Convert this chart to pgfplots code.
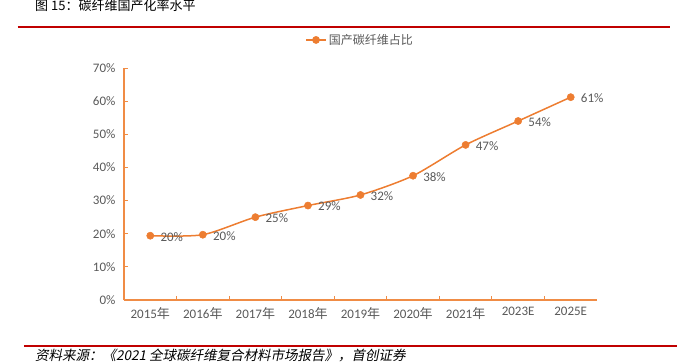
\documentclass[border=0pt]{standalone}
\usepackage{pgfplots}
\pgfplotsset{compat=1.18}
\usepackage{fontspec}
\setmainfont{Carlito}
\newfontfamily\cjk{Noto Sans CJK SC}
\newfontfamily\cjkit{Noto Sans CJK SC}[FakeSlant=0.2]
\definecolor{lineor}{HTML}{ED7D31}
\definecolor{axor}{HTML}{F08C45}
\definecolor{txtgray}{HTML}{595959}
\definecolor{redline}{HTML}{C00000}

\pgfplotstableread{
x y lab
0 19.4 20
1 19.7 20
2 25.0 25
3 28.5 29
4 31.7 32
5 37.5 38
6 46.8 47
7 54.0 54
8 61.2 61
}\ratedata

\begin{document}
\begin{tikzpicture}[x=1pt,y=1pt]
\path[use as bounding box] (-124,-62) rectangle (558,300);
\clip (-124,-62) rectangle (558,300);
\node[anchor=base west, font=\cjk\fontsize{13}{15}\selectfont, inner sep=0] at (-89,289) {图 15：碳纤维国产化率水平};
\draw[redline, line width=1.2pt] (-106,273) -- (546,273);
\draw[redline, line width=2pt] (-106,273) -- (-46,273);
\draw[redline, line width=1.2pt] (-100,-46) -- (553,-46);
\node[anchor=base west, font=\cjkit\fontsize{13.5}{15}\selectfont, inner sep=0] at (-89,-60.5) {资料来源：《2021 全球碳纤维复合材料市场报告》，首创证券};
\begin{axis}[
  at={(0,0)}, anchor=south west,
  scale only axis, width=473pt, height=232pt,
  xmin=-0.5, xmax=8.5, ymin=0, ymax=70,
  axis lines*=left,
  axis line style={axor, line width=1.2pt},
  tick align=inside,
  tick style={axor, line width=1pt},
  major tick length=4pt, minor tick length=4pt,
  ytick={0,10,...,70},
  yticklabel={\pgfmathprintnumber{\tick}\%},
  xtick={0,...,8},
  xticklabels={2015{\cjk 年},2016{\cjk 年},2017{\cjk 年},2018{\cjk 年},2019{\cjk 年},2020{\cjk 年},2021{\cjk 年},2023E,2025E},
  major x tick style={draw=none},
  minor xtick={0.5,1.5,...,7.5},
  /pgf/number format/assume math mode=true,
  ticklabel style={text=txtgray, font=\fontsize{13}{15}\selectfont},
  xticklabel style={yshift=-4pt},
  yticklabel style={xshift=-5pt},
  legend style={at={(axis description cs:0.499,1.121)}, anchor=center, draw=none, fill=none, font=\cjk\fontsize{12}{14}\selectfont, text=txtgray},
  legend image code/.code={\draw[mark repeat=2,mark phase=2,#1] plot coordinates {(0pt,0pt)(10pt,0pt)(20pt,0pt)};},
]
\addplot[color=lineor, line width=1.5pt, smooth, tension=0.45,
  mark=*, mark size=3.6pt, mark options={fill=lineor, draw=lineor, line width=0.5pt},
  nodes near coords={\pgfplotspointmeta\%}, point meta=explicit symbolic,
  nodes near coords style={anchor=west, xshift=9pt, yshift=-1pt, text=txtgray, font=\fontsize{13}{15}\selectfont, inner sep=1pt}]
  table[x=x, y=y, meta=lab] {\ratedata};
\addlegendentry{国产碳纤维占比}
\end{axis}
\end{tikzpicture}
\end{document}
